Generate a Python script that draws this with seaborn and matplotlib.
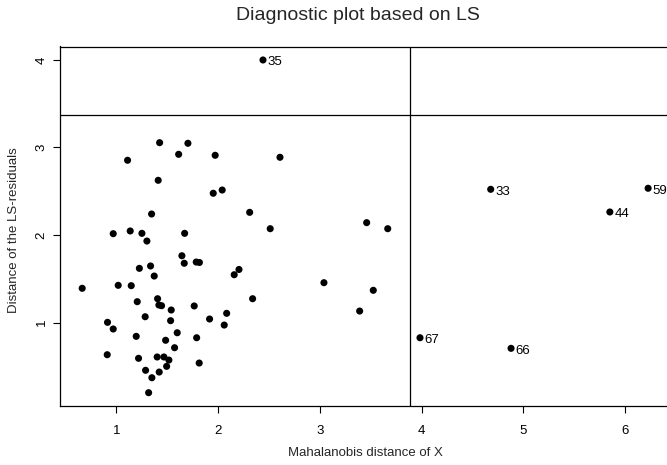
import numpy as np
import pandas as pd
import matplotlib
matplotlib.use("Agg")
import matplotlib.pyplot as plt
import seaborn as sns

# Robust distance (x) and LS-residual distance (y)
md_x = [1.424, 1.702, 1.611, 1.970, 1.109, 2.607, 1.410, 1.951, 2.039, 1.345,
        2.309, 2.511, 3.459, 3.666, 0.968, 1.135, 1.250, 1.299, 1.670, 1.643,
        1.666, 1.784, 1.815, 1.225, 1.335, 2.204, 2.157, 1.371, 0.663, 1.017,
        1.145, 3.039, 3.524, 1.204, 1.404, 1.417, 1.443, 1.538, 1.764, 2.338,
        1.282, 1.532, 1.915, 2.083, 2.059, 3.390, 0.912, 0.968, 1.194, 1.597,
        1.483, 1.788, 1.571, 0.909, 1.217, 1.400, 1.466, 1.515, 1.493, 1.813,
        1.286, 1.420, 1.348, 1.316]
res_y = [3.055, 3.048, 2.922, 2.911, 2.854, 2.888, 2.625, 2.477, 2.514, 2.240,
         2.259, 2.072, 2.141, 2.072, 2.015, 2.046, 2.019, 1.931, 2.019, 1.763,
         1.677, 1.691, 1.686, 1.619, 1.646, 1.606, 1.546, 1.531, 1.391, 1.425,
         1.421, 1.455, 1.368, 1.238, 1.272, 1.200, 1.192, 1.143, 1.189, 1.272,
         1.066, 1.021, 1.040, 1.105, 0.971, 1.131, 1.002, 0.926, 0.842, 0.883,
         0.797, 0.826, 0.712, 0.632, 0.591, 0.606, 0.606, 0.571, 0.499, 0.537,
         0.454, 0.434, 0.369, 0.198]

# Flagged observations
flag_ids = ["35", "33", "59", "44", "67", "66"]
flag_x = [2.440, 4.678, 6.225, 5.849, 3.983, 4.878]
flag_y = [4.000, 2.522, 2.534, 2.263, 0.826, 0.705]

# Cut-off lines
x_cut = 3.885
y_cut = 3.371

x_ticks = [1, 2, 3, 4, 5, 6]
y_ticks = [1, 2, 3, 4]

df = pd.DataFrame({"x": md_x + flag_x, "y": res_y + flag_y})

sns.set_style("ticks")
plt.rcParams["font.family"] = ["Liberation Sans", "DejaVu Sans"]

fig = plt.figure(figsize=(6.67, 4.65), dpi=100)
W, H = 667, 465
left, right, top, bottom = 59.5, 671, 46.5, 406
ax = fig.add_axes([left / W, 1 - bottom / H, (right - left) / W, (bottom - top) / H])

sns.scatterplot(data=df, x="x", y="y", ax=ax, color="black", s=26,
                edgecolor="none", linewidth=0, legend=False)

for lab, xv, yv in zip(flag_ids, flag_x, flag_y):
    ax.annotate(lab, (xv, yv), xytext=(3.2, -1.8), textcoords="offset points",
                fontsize=9.5, ha="left", va="center", color="black")

ax.axvline(x_cut, color="black", lw=0.9)
ax.axhline(y_cut, color="black", lw=0.9)

ax.set_xlim(0.44, 6.45)
ax.set_ylim(0.046, 4.154)
ax.set_xticks(x_ticks)
ax.set_yticks(y_ticks)
ax.set_xticklabels([str(t) for t in x_ticks])
ax.set_yticklabels([str(t) for t in y_ticks], rotation=90, va="center")
ax.tick_params(axis="both", direction="out", length=5, width=0.8,
               color="black", labelsize=9.5, labelcolor="black")
ax.tick_params(axis="x", pad=9)
ax.tick_params(axis="y", pad=3.5)

for sp in ax.spines.values():
    sp.set_visible(True)
    sp.set_color("black")
    sp.set_linewidth(0.9)

ax.set_xlabel("Mahalanobis distance of X", fontsize=9.5, va="center")
ax.xaxis.set_label_coords(0.5, (bottom - 453) / (bottom - top))
ax.set_ylabel("Distance of the LS-residuals", fontsize=9.5, va="center")
ax.yaxis.set_label_coords((14 - left) / (right - left), (bottom - 230) / (bottom - top))

fig.text(357.5 / W, 1 - 16 / H, "Diagnostic plot based on LS", fontsize=14,
         ha="center", va="center")

fig.savefig("out.png", dpi=100)
